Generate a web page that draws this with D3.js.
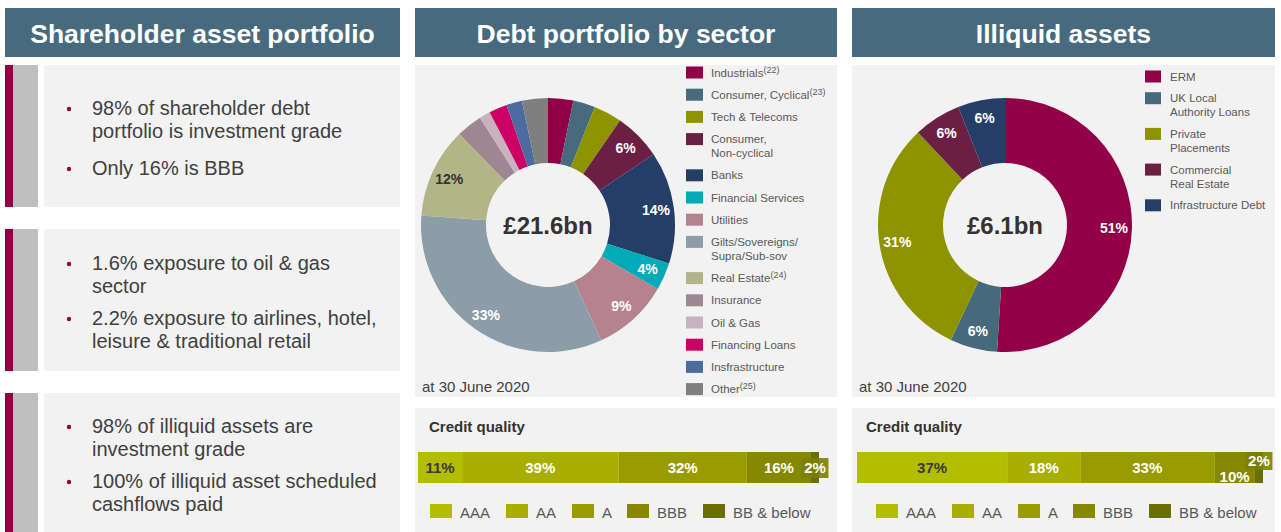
<!DOCTYPE html>
<html>
<head>
<meta charset="utf-8">
<script src="https://cdn.jsdelivr.net/npm/d3@7"></script>
<style>
  body { margin: 0; background: #fff; }
  svg { display: block; font-family: Arial, "Liberation Sans", sans-serif; }
</style>
</head>
<body>
<svg id="chart" width="1281" height="532"></svg>
<script>
// debt portfolio by sector (% of £21.6bn), clockwise from 12 o'clock
var sectorNames = ["Industrials", "Consumer, Cyclical", "Tech & Telecoms", "Consumer,\nNon-cyclical", "Banks",
  "Financial Services", "Utilities", "Gilts/Sovereigns/\nSupra/Sub-sov", "Real Estate", "Insurance",
  "Oil & Gas", "Financing Loans", "Insfrastructure", "Other"];
var sectorNotes = ["22", "23", "", "", "", "", "", "", "24", "", "", "", "", "25"];
var sectorValues = [3.2, 2.8, 3.6, 6.0, 14.3, 3.5, 9.7, 33.1, 11.5, 3.3, 1.4, 2.3, 2.0, 3.3];
var sectorLabels = ["", "", "", "6%", "14%", "4%", "9%", "33%", "12%", "", "", "", "", ""];
var sectorColors = ["#8f0047", "#466a7e", "#8e9400", "#6b1f45", "#253e68", "#00aab6", "#b5828f",
  "#8d9da7", "#b1b587", "#9d8891", "#c9b2bf", "#cc0062", "#4c6b9e", "#7f7f7f"];

// illiquid assets (% of £6.1bn)
var illiquidNames = ["ERM", "UK Local\nAuthority Loans", "Private\nPlacements", "Commercial\nReal Estate", "Infrastructure Debt"];
var illiquidValues = [51, 6, 31, 6, 6];
var illiquidLabels = ["51%", "6%", "31%", "6%", "6%"];
var illiquidColors = ["#920048", "#46697c", "#8e9400", "#6b1f45", "#253e68"];

// credit quality
var ratings = ["AAA", "AA", "A", "BBB", "BB & below"];
var debtQuality = [11, 39, 32, 16, 2];
var illiquidQuality = [37, 18, 33, 10, 2];
var ratingColors = ["#b3be00", "#a9ae00", "#999b00", "#868900", "#6b6e00"];

var HEAD = "#476a7e", PANEL = "#f2f2f2", TXT = "#404040", MAG = "#8f0047";

var svg = d3.select("#chart");

// ---- headers
var headers = [
  { x0: 5, x1: 400, t: "Shareholder asset portfolio" },
  { x0: 415, x1: 837, t: "Debt portfolio by sector" },
  { x0: 852, x1: 1275, t: "Illiquid assets" }
];
headers.forEach(function (h) {
  svg.append("rect").attr("x", h.x0).attr("y", 8).attr("width", h.x1 - h.x0).attr("height", 49).attr("fill", HEAD);
  svg.append("text").attr("x", (h.x0 + h.x1) / 2).attr("y", 43).attr("text-anchor", "middle")
    .attr("fill", "#fff").attr("font-size", 26.5).attr("font-weight", "bold").text(h.t);
});

// ---- left text boxes
var boxes = [
  { y0: 65, y1: 207, items: [{ y: 115, lines: ["98% of shareholder debt", "portfolio is investment grade"] },
                             { y: 175, lines: ["Only 16% is BBB"] }] },
  { y0: 229, y1: 371, items: [{ y: 270, lines: ["1.6% exposure to oil & gas", "sector"] },
                              { y: 325, lines: ["2.2% exposure to airlines, hotel,", "leisure & traditional retail"] }] },
  { y0: 393, y1: 532, items: [{ y: 433, lines: ["98% of illiquid assets are", "investment grade"] },
                              { y: 488, lines: ["100% of illiquid asset scheduled", "cashflows paid"] }] }
];
boxes.forEach(function (b) {
  svg.append("rect").attr("x", 5).attr("y", b.y0).attr("width", 8).attr("height", b.y1 - b.y0).attr("fill", MAG);
  svg.append("rect").attr("x", 13).attr("y", b.y0).attr("width", 25).attr("height", b.y1 - b.y0).attr("fill", "#bfbfbf");
  svg.append("rect").attr("x", 44).attr("y", b.y0).attr("width", 356).attr("height", b.y1 - b.y0).attr("fill", PANEL);
  b.items.forEach(function (it) {
    svg.append("circle").attr("cx", 69).attr("cy", it.y - 6).attr("r", 2.2).attr("fill", MAG);
    var t = svg.append("text").attr("x", 92).attr("y", it.y).attr("font-size", 20).attr("fill", TXT);
    it.lines.forEach(function (l, i) {
      t.append("tspan").attr("x", 92).attr("dy", i ? 23 : 0).text(l);
    });
  });
});

// ---- panels
[[415, 837], [852, 1275]].forEach(function (p) {
  svg.append("rect").attr("x", p[0]).attr("y", 65).attr("width", p[1] - p[0]).attr("height", 332).attr("fill", PANEL);
  svg.append("rect").attr("x", p[0]).attr("y", 408).attr("width", p[1] - p[0]).attr("height", 124).attr("fill", PANEL);
  svg.append("text").attr("x", p[0] + 7).attr("y", 392).attr("font-size", 15).attr("fill", TXT).text("at 30 June 2020");
  svg.append("text").attr("x", p[0] + 14).attr("y", 432).attr("font-size", 15).attr("font-weight", "bold")
    .attr("fill", "#333").text("Credit quality");
});

// ---- donuts
function donut(cx, cy, values, colors, labels, total, darkLabel) {
  var pie = d3.pie().sort(null).value(function (d) { return d; });
  var arc = d3.arc().innerRadius(62).outerRadius(127);
  var labelArc = d3.arc().innerRadius(109).outerRadius(109);
  var g = svg.append("g").attr("transform", "translate(" + cx + "," + cy + ")");
  var arcs = pie(values);
  g.selectAll("path").data(arcs).join("path")
    .attr("d", arc).attr("fill", function (d, i) { return colors[i]; });
  g.selectAll("text.lbl").data(arcs).join("text").attr("class", "lbl")
    .attr("transform", function (d) { return "translate(" + labelArc.centroid(d) + ")"; })
    .attr("text-anchor", "middle").attr("dy", "0.36em")
    .attr("font-size", 14).attr("font-weight", "bold")
    .attr("fill", function (d, i) { return i === darkLabel ? "#333" : "#fff"; })
    .text(function (d, i) { return labels[i]; });
  g.append("text").attr("y", 9).attr("text-anchor", "middle").attr("font-size", 24)
    .attr("font-weight", "bold").attr("fill", "#333").text(total);
}
donut(548, 225, sectorValues, sectorColors, sectorLabels, "£21.6bn", 8);
donut(1005, 225, illiquidValues, illiquidColors, illiquidLabels, "£6.1bn", -1);

// ---- side legends
function sideLegend(x, y0, step, names, notes, colors, sw, sh) {
  var y = y0;
  names.forEach(function (n, i) {
    var lines = n.split("\n");
    svg.append("rect").attr("x", x).attr("y", y - sh / 2).attr("width", sw).attr("height", sh).attr("fill", colors[i]);
    var t = svg.append("text").attr("x", x + 25).attr("y", y + 4).attr("font-size", 11.5).attr("fill", "#595959");
    lines.forEach(function (l, k) {
      t.append("tspan").attr("x", x + 25).attr("dy", k ? 14 : 0).text(l);
    });
    if (notes && notes[i]) {
      t.append("tspan").attr("dy", -4).attr("font-size", 9).text("(" + notes[i] + ")");
    }
    y += step + (lines.length - 1) * 14;
  });
}
sideLegend(686, 72.5, 22.2, sectorNames, sectorNotes, sectorColors, 17, 12);
sideLegend(1145, 76.5, 21.7, illiquidNames, null, illiquidColors, 16, 12);

// ---- credit quality bars
function creditBar(x0, x1, values, smallBoxes, legendX) {
  var x = d3.scaleLinear().domain([0, d3.sum(values)]).range([x0, x1]);
  var acc = 0;
  var segs = values.map(function (v, i) {
    var s = { i: i, v: v, a: acc, b: acc + v };
    acc += v;
    return s;
  });
  var g = svg.append("g");
  g.selectAll("rect.seg").data(segs).join("rect").attr("class", "seg")
    .attr("x", function (d) { return x(d.a); }).attr("y", 452)
    .attr("width", function (d) { return x(d.b) - x(d.a); }).attr("height", 31)
    .attr("fill", function (d) { return ratingColors[d.i]; });
  segs.forEach(function (d) {
    var cx = (x(d.a) + x(d.b)) / 2;
    var opt = smallBoxes[d.i] || {};
    var cy = opt.cy || 468;
    if (opt.box) {
      g.append("rect").attr("x", cx - 13.5).attr("y", cy - opt.box / 2).attr("width", 27).attr("height", opt.box)
        .attr("fill", "#7c7f00").attr("opacity", 0.9);
    }
    g.append("text").attr("x", cx).attr("y", cy + 5).attr("text-anchor", "middle")
      .attr("font-size", 15).attr("font-weight", "bold")
      .attr("fill", d.i === 0 ? "#3a3a3a" : "#fff").text(d.v + "%");
  });
  var lg = svg.append("g");
  ratings.forEach(function (r, i) {
    lg.append("rect").attr("x", legendX[i]).attr("y", 504).attr("width", 22).attr("height", 14).attr("fill", ratingColors[i]);
    lg.append("text").attr("x", legendX[i] + 30).attr("y", 518).attr("font-size", 15).attr("fill", "#595959").text(r);
  });
}
creditBar(418, 819, debtQuality, { 4: { box: 20, cy: 468 } }, [430, 506, 572, 627, 703]);
creditBar(857, 1263, illiquidQuality, { 3: { cy: 477 }, 4: { box: 18, cy: 461 } }, [876, 952, 1018, 1073, 1149]);
</script>
</body>
</html>
